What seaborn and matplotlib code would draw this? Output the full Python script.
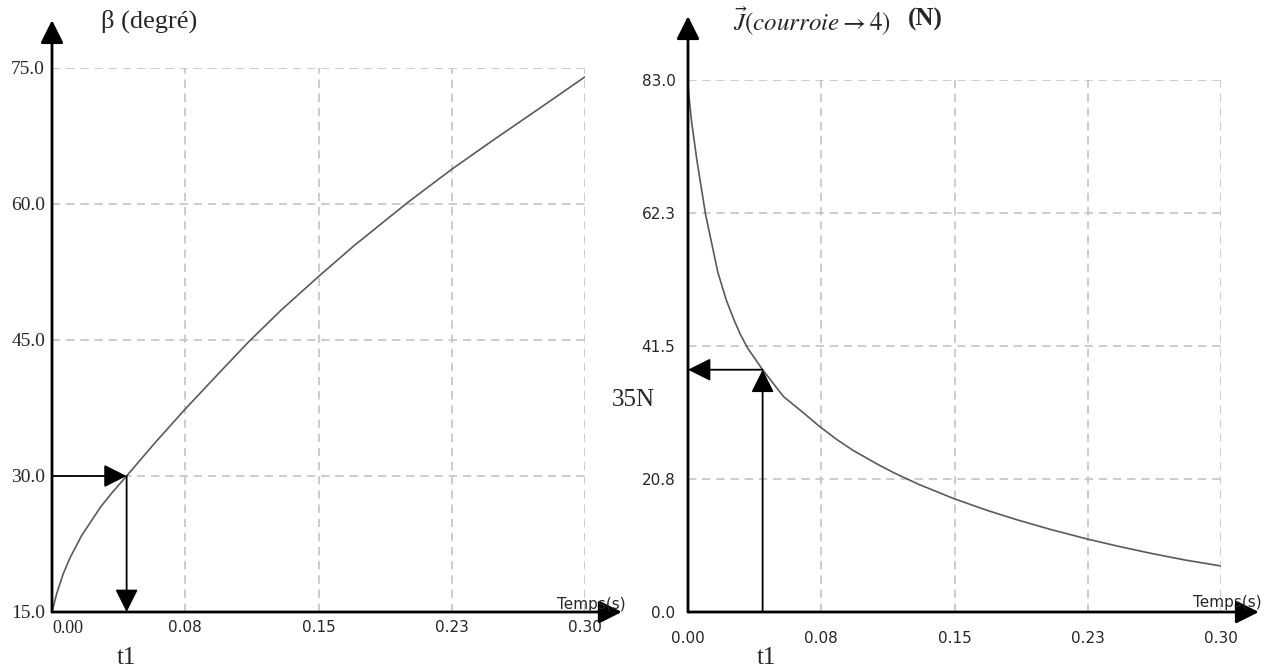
import matplotlib
matplotlib.use('Agg')
import matplotlib.pyplot as plt
import seaborn as sns
import pandas as pd

# beta(t)
t_beta = [0, 0.0026, 0.0063, 0.0102, 0.0166, 0.0274, 0.034, 0.042, 0.0577,
          0.0746, 0.0923, 0.1107, 0.129, 0.15, 0.170, 0.2004, 0.2248, 0.248,
          0.274, 0.2998]
beta = [15, 17.0, 19.2, 21.0, 23.4, 26.6, 28.2, 30.0, 33.6,
        37.3, 41.0, 44.8, 48.3, 52.0, 55.4, 60.2, 63.8, 67.0,
        70.5, 74.0]

# J(t)
t_J = [0, 0.002, 0.005, 0.0099, 0.0168, 0.0215, 0.026, 0.0295, 0.0335,
       0.042, 0.0538, 0.0653, 0.0738, 0.0838, 0.093, 0.107, 0.116, 0.13,
       0.15, 0.169, 0.185, 0.2038, 0.2245, 0.243, 0.2615, 0.28, 0.2995]
J = [82.0, 76.5, 70.5, 62.0, 53.0, 48.7, 45.5, 43.3, 41.2,
     37.8, 33.6, 31.0, 29.0, 26.9, 25.2, 23.0, 21.7, 19.9,
     17.65, 15.8, 14.4, 12.9, 11.4, 10.2, 9.1, 8.1, 7.2]

x_ticks = [0, 0.075, 0.15, 0.225, 0.30]
x_labels = ['0.00', '0.08', '0.15', '0.23', '0.30']
beta_ticks = [15, 30, 45, 60, 75]
beta_labels = ['15.0', '30.0', '45.0', '60.0', '75.0']
J_ticks = [0, 20.75, 41.5, 62.25, 83]
J_labels = ['0.0', '20.8', '41.5', '62.3', '83.0']

# reading of t1 on both curves
t1 = 0.042
beta_t1 = 30.0
J_t1 = 37.8

sns.set_style('white')
plt.rcParams['mathtext.fontset'] = 'stix'
SERIF = ['Liberation Serif', 'DejaVu Serif']
SANS = ['DejaVu Sans']

W, H = 1280, 669
fig = plt.figure(figsize=(W / 100, H / 100), dpi=100)


def px_axes(x0, x1, y_bot, y_top):
    return fig.add_axes([x0 / W, 1 - y_bot / H, (x1 - x0) / W, (y_bot - y_top) / H])


def arrow(ax, start, end, coords='axes fraction', lw=2.0):
    ax.annotate('', xy=end, xytext=start, xycoords=coords, textcoords=coords,
                annotation_clip=False,
                arrowprops=dict(arrowstyle='-|>,head_length=1.4,head_width=0.7',
                                mutation_scale=10, color='black', lw=lw,
                                shrinkA=0, shrinkB=0))


def ftext(x, y, s, **kw):
    fig.text(x / W, 1 - y / H, s, **kw)


def style_axes(ax):
    for sp in ax.spines.values():
        sp.set_visible(False)
    ax.grid(True, color='#c4c4c4', lw=1.2, linestyle=(0, (5, 3.5)))
    ax.tick_params(length=0)
    ax.set_xlabel('')
    ax.set_ylabel('')


# left: beta
ax1 = px_axes(52, 585, 612, 68)
sns.lineplot(data=pd.DataFrame({'t': t_beta, 'b': beta}), x='t', y='b',
             ax=ax1, color='#5a5a5a', lw=1.2)
ax1.set_xlim(0, 0.30)
ax1.set_ylim(15, 75)
ax1.set_xticks(x_ticks, x_labels)
ax1.set_yticks(beta_ticks, beta_labels)
style_axes(ax1)
ax1.tick_params(axis='x', pad=6)
ax1.tick_params(axis='y', pad=5)
for lab in ax1.get_yticklabels():
    lab.set_fontfamily(SERIF)
    lab.set_fontsize(14)
for i, lab in enumerate(ax1.get_xticklabels()):
    if i == 0:
        lab.set_fontfamily(SERIF)
        lab.set_fontsize(13)
        lab.set_horizontalalignment('left')
    else:
        lab.set_fontfamily(SANS)
        lab.set_fontsize(11)
arrow(ax1, (0, 0), (0, 1.088))
arrow(ax1, (0, 0), (1.069, 0))
arrow(ax1, (0, beta_t1), (t1, beta_t1), coords='data', lw=1.3)
arrow(ax1, (t1, beta_t1), (t1, 15), coords='data', lw=1.3)

# right: J
ax2 = px_axes(688, 1221, 612, 80)
sns.lineplot(data=pd.DataFrame({'t': t_J, 'j': J}), x='t', y='j',
             ax=ax2, color='#5a5a5a', lw=1.2)
ax2.set_xlim(0, 0.30)
ax2.set_ylim(0, 83)
ax2.set_xticks(x_ticks, x_labels)
ax2.set_yticks(J_ticks, J_labels)
style_axes(ax2)
ax2.tick_params(axis='x', pad=14)
ax2.tick_params(axis='y', pad=9)
for lab in ax2.get_xticklabels() + ax2.get_yticklabels():
    lab.set_fontfamily(SANS)
    lab.set_fontsize(11)
arrow(ax2, (0, 0), (0, 1.12))
arrow(ax2, (0, 0), (1.071, 0))
arrow(ax2, (t1, 0), (t1, J_t1), coords='data', lw=1.3)
arrow(ax2, (t1, J_t1), (0, J_t1), coords='data', lw=1.3)

# titles and annotations
ftext(101, 21, 'β (degré)', family=SERIF, fontsize=19, va='center')
ftext(733, 21, r'$\vec{J}(courroie \rightarrow 4)$', fontsize=18, va='center')
ftext(908, 19, '(N)', family=SERIF, fontsize=18, fontweight='bold', va='center')
ftext(612, 400, '35N', family=SERIF, fontsize=18, va='center')
ftext(117, 658, 't1', family=SERIF, fontsize=18, va='center')
ftext(757, 658, 't1', family=SERIF, fontsize=18, va='center')
ftext(557, 604, 'Temps(s)', family=SANS, fontsize=11, va='center')
ftext(1193, 602, 'Temps(s)', family=SANS, fontsize=11, va='center')

fig.savefig('out.png', dpi=100)
